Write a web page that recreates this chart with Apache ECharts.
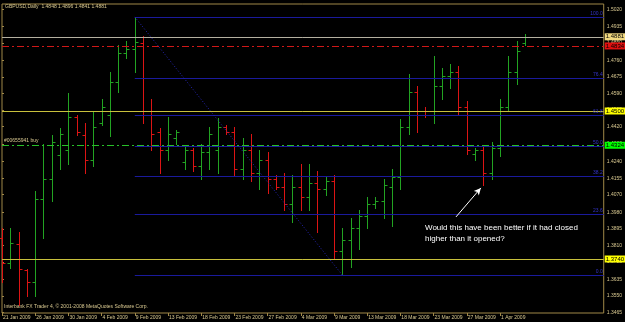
<!DOCTYPE html>
<html><head><meta charset="utf-8">
<script src="https://cdn.jsdelivr.net/npm/echarts@6/dist/echarts.min.js"></script>
<style>html,body{margin:0;padding:0;background:#000;}#c{width:625px;height:322px;}</style>
</head><body><div id="c"></div>
<script>
const dates = ['21 Jan 2009','22 Jan 2009','23 Jan 2009','25 Jan 2009','26 Jan 2009','27 Jan 2009','28 Jan 2009','29 Jan 2009','30 Jan 2009',
'1 Feb 2009','2 Feb 2009','3 Feb 2009','4 Feb 2009','5 Feb 2009','6 Feb 2009','8 Feb 2009','9 Feb 2009','10 Feb 2009','11 Feb 2009','12 Feb 2009','13 Feb 2009',
'15 Feb 2009','16 Feb 2009','17 Feb 2009','18 Feb 2009','19 Feb 2009','20 Feb 2009','22 Feb 2009','23 Feb 2009','24 Feb 2009','25 Feb 2009','26 Feb 2009','27 Feb 2009',
'1 Mar 2009','2 Mar 2009','3 Mar 2009','4 Mar 2009','5 Mar 2009','6 Mar 2009','8 Mar 2009','9 Mar 2009','10 Mar 2009','11 Mar 2009','12 Mar 2009','13 Mar 2009',
'15 Mar 2009','16 Mar 2009','17 Mar 2009','18 Mar 2009','19 Mar 2009','20 Mar 2009','22 Mar 2009','23 Mar 2009','24 Mar 2009','25 Mar 2009','26 Mar 2009','27 Mar 2009',
'29 Mar 2009','30 Mar 2009','31 Mar 2009','1 Apr 2009','2 Apr 2009','3 Apr 2009','5 Apr 2009'];
const opens = [1.3850,1.3720,1.3815,1.3681,1.3622,1.4050,1.4150,1.4274,1.4300,1.4470,1.4377,1.4250,1.4440,1.4480,1.4650,1.4800,1.4818,1.4849,1.4480,1.4390,1.4300,
1.4360,1.4240,1.4300,1.4220,1.4290,1.4300,1.4420,1.4390,1.4200,1.4300,1.4180,1.4250,1.4150,1.4110,1.4020,1.4110,1.4060,1.4130,1.4100,1.4140,1.3780,1.3840,1.3900,1.3960,
1.4020,1.4040,1.4110,1.4160,1.4420,1.4600,1.4500,1.4480,1.4630,1.4680,1.4700,1.4520,1.4280,1.4300,1.4180,1.4310,1.4520,1.4700,1.4848];
const highs = [1.3900,1.3901,1.3880,1.3690,1.4090,1.4330,1.4377,1.4413,1.4590,1.4480,1.4440,1.4500,1.4560,1.4700,1.4839,1.4860,1.4983,1.4885,1.4560,1.4413,1.4470,
1.4400,1.4315,1.4310,1.4330,1.4420,1.4464,1.4430,1.4420,1.4360,1.4380,1.4300,1.4290,1.4170,1.4180,1.4170,1.4230,1.4230,1.4190,1.4160,1.4170,1.3900,1.3950,1.3990,1.4060,
1.4060,1.4150,1.4200,1.4460,1.4690,1.4630,1.4520,1.4780,1.4720,1.4740,1.4730,1.4550,1.4310,1.4320,1.4340,1.4560,1.4780,1.4860,1.4896];
const lows = [1.3620,1.3694,1.3505,1.3548,1.3548,1.3850,1.4040,1.4200,1.4230,1.4377,1.4180,1.4220,1.4428,1.4372,1.4600,1.4770,1.4700,1.4440,1.4300,1.4180,1.4250,
1.4330,1.4200,1.4190,1.4150,1.4200,1.4180,1.4380,1.4170,1.4150,1.4140,1.4100,1.4080,1.4100,1.3990,1.3930,1.3990,1.3990,1.3880,1.4070,1.3742,1.3658,1.3700,1.3790,1.3900,
1.4000,1.3950,1.3910,1.4100,1.4380,1.4390,1.4470,1.4440,1.4560,1.4620,1.4480,1.4280,1.4250,1.4120,1.4150,1.4270,1.4500,1.4640,1.4841];
const closes = [1.3720,1.3820,1.3690,1.3620,1.4050,1.4150,1.4340,1.4380,1.4470,1.4390,1.4250,1.4420,1.4520,1.4650,1.4800,1.4820,1.4854,1.4480,1.4380,1.4300,1.4382,
1.4390,1.4300,1.4220,1.4290,1.4380,1.4420,1.4390,1.4200,1.4300,1.4180,1.4250,1.4150,1.4110,1.4020,1.4110,1.4060,1.4130,1.4100,1.4140,1.3780,1.3840,1.3900,1.3960,1.4020,
1.4040,1.4120,1.4160,1.4420,1.4600,1.4500,1.4480,1.4630,1.4680,1.4700,1.4520,1.4300,1.4300,1.4180,1.4310,1.4520,1.4700,1.4810,1.4881];
const dateTickIdx = [0,4,8,12,16,20,24,28,32,36,40,44,48,52,56,60];
const priceTicks = [1.5020,1.4935,1.4850,1.4760,1.4675,1.4590,1.4505,1.4420,1.4330,1.4240,1.4155,1.4070,1.3980,1.3895,1.3810,1.3725,1.3635,1.3550,1.3465];
const fibHighIdx = 16, fibLowIdx = 41;
const fibHigh = 1.4983, fibLow = 1.3658;
const fibRatios = [0, 0.236, 0.382, 0.5, 0.618, 0.764, 1];
const fibNames = ['0.0','23.6','38.2','50.0','61.8','76.4','100.0'];
const bidPrice = 1.4881, stopPrice = 1.4834, orderPrice = 1.4324;
const yellowLevels = [1.4500, 1.3740];
const orderText = '#00655941 buy';
const titleText = 'GBPUSD,Daily  1.4848 1.4896 1.4841 1.4881';
const copyText = 'Interbank FX Trader 4, \u00a9 2001-2008 MetaQuotes Software Corp.';
const noteLines = ['Would this have been better if it had closed', 'higher than it opened?'];
const arrowFrom = [54.7, 1.3956], arrowTo = [57.7, 1.4105];

const X_MIN = 0, X_MAX = 72.5, Y_MIN = 1.34627, Y_MAX = 1.50494;
const GREEN = '#22a322', RED = '#dc1414', FRAME = '#a08848', TXT = '#d8c890', BLUE = '#1a1a9c';
const FONT = 'Liberation Sans';

const ohlc = opens.map((o, i) => [i, o, highs[i], lows[i], closes[i]]);

const chart = echarts.init(document.getElementById('c'), null, {renderer: 'canvas'});

function renderItem(params, api) {
  const x = api.value(0), o = api.value(1), h = api.value(2), l = api.value(3), c = api.value(4);
  const pH = api.coord([x, h]), pL = api.coord([x, l]), pO = api.coord([x, o]), pC = api.coord([x, c]);
  const col = c >= o ? GREEN : RED;
  const xx = Math.round(pH[0]) + 0.5;
  const st = {stroke: col, lineWidth: 1};
  return {type: 'group', children: [
    {type: 'line', shape: {x1: xx, y1: Math.round(pH[1]), x2: xx, y2: Math.round(pL[1]) + 1}, style: st},
    {type: 'line', shape: {x1: xx - 3, y1: Math.round(pO[1]) + 0.5, x2: xx, y2: Math.round(pO[1]) + 0.5}, style: st},
    {type: 'line', shape: {x1: xx, y1: Math.round(pC[1]) + 0.5, x2: xx + 3, y2: Math.round(pC[1]) + 0.5}, style: st}
  ]};
}

const boxLabel = (txt, bg, fg) => ({show: true, position: 'end', formatter: txt, backgroundColor: bg, color: fg,
  fontSize: 6, fontFamily: FONT, padding: [1, 1, 0, 1], distance: 1});

const fibData = fibRatios.map((r, k) => {
  const v = fibLow + r * (fibHigh - fibLow);
  return [{coord: [fibHighIdx, v], label: {show: true, position: 'insideEndTop', formatter: fibNames[k], color: '#3434c8', fontSize: 5, fontFamily: FONT, distance: 1}},
          {coord: [X_MAX, v]}];
});

const option = {
  backgroundColor: '#000',
  animation: false,
  grid: {left: 2, top: 4, width: 603, height: 309, show: true, borderColor: FRAME, borderWidth: 1},
  xAxis: {type: 'value', min: X_MIN, max: X_MAX, splitLine: {show: false},
    axisLine: {show: false},
    axisTick: {show: true, customValues: dateTickIdx, length: 3, lineStyle: {color: FRAME}},
    axisLabel: {show: true, customValues: dateTickIdx, formatter: v => dates[v] || '', align: 'left', margin: 2,
      color: TXT, fontSize: 5, fontFamily: FONT, padding: [0, 0, 0, 1]}},
  yAxis: {type: 'value', position: 'right', min: Y_MIN, max: Y_MAX, splitLine: {show: false}, scale: true,
    axisLine: {show: false},
    axisTick: {show: true, customValues: priceTicks, length: 2, lineStyle: {color: FRAME}},
    axisLabel: {show: true, customValues: priceTicks, formatter: v => v.toFixed(4), margin: 3,
      color: TXT, fontSize: 5, fontFamily: FONT}},
  series: [
    {type: 'line', data: [], silent: true, z: 1,
      markLine: {silent: true, symbol: 'none', animation: false, precision: 5, label: {show: false},
        data: fibData,
        lineStyle: {color: BLUE, width: 1, type: 'solid'}}},
    {type: 'line', data: [], silent: true, z: 1,
      markLine: {silent: true, symbol: 'none', animation: false, precision: 5, label: {show: false},
        data: [[{coord: [fibHighIdx, fibHigh]}, {coord: [fibLowIdx, fibLow]}]],
        lineStyle: {type: [1, 2], color: '#2626b8', width: 1}}},
    {type: 'custom', renderItem: renderItem, data: ohlc, encode: {x: 0, y: [1, 2, 3, 4]}, z: 3, silent: true},
    {type: 'line', data: [], silent: true, z: 4,
      markLine: {silent: true, symbol: 'none', animation: false, precision: 5,
        data: [
          {yAxis: bidPrice, lineStyle: {color: '#b4b0a0', width: 1, type: 'solid'}, label: boxLabel(bidPrice.toFixed(4), '#f0d880', '#000')},
          {yAxis: stopPrice, lineStyle: {color: '#d01818', width: 1, type: [7, 3, 2, 3]}, label: boxLabel(stopPrice.toFixed(4), '#e01010', '#000')},
          {yAxis: yellowLevels[0], lineStyle: {color: '#c8c03c', width: 1, type: 'solid'}, label: boxLabel(yellowLevels[0].toFixed(4), '#ffff00', '#000')},
          {yAxis: yellowLevels[1], lineStyle: {color: '#c8c03c', width: 1, type: 'solid'}, label: boxLabel(yellowLevels[1].toFixed(4), '#ffff00', '#000')},
          {yAxis: orderPrice, lineStyle: {color: '#28c028', width: 1, type: [7, 3, 2, 3]}, label: boxLabel(orderPrice.toFixed(4), '#00ff00', '#000')}
        ]}},
    {type: 'line', data: [], silent: true, z: 5,
      markLine: {silent: true, animation: false, precision: 5, symbol: ['none', 'arrow'], symbolSize: [5, 7],
        lineStyle: {color: '#ffffff', width: 1, type: 'solid'}, label: {show: false},
        data: [[{coord: arrowFrom}, {coord: arrowTo}]]}}
  ],
  graphic: [
    {type: 'text', left: 5, top: 4, style: {text: titleText, fill: TXT, font: '5px ' + FONT}},
    {type: 'text', left: 4, top: 304, style: {text: copyText, fill: TXT, font: '5px ' + FONT}},
    {type: 'text', left: 4, top: 138, style: {text: orderText, fill: TXT, font: '5px ' + FONT}},
    {type: 'text', left: 425, top: 222, style: {text: noteLines.join('\n'), fill: '#ffffff', font: '8px ' + FONT, lineHeight: 11}}
  ]
};
chart.setOption(option);
</script></body></html>
